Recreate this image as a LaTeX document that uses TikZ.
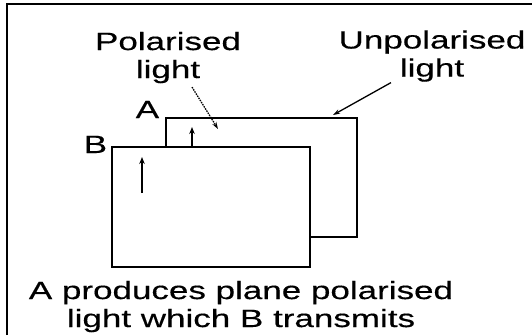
\documentclass[tikz,border=0pt]{standalone}
\usepackage{fontspec}
\newfontfamily\figfont[FakeStretch=1.4,FakeBold=0.4]{Liberation Sans}
\usetikzlibrary{arrows.meta,positioning}

\begin{document}
\begin{tikzpicture}[x=1pt, y=-1pt, line width=1.8pt,
  every node/.style={font=\figfont\fontsize{25}{28}\selectfont, inner sep=0pt},
  plate/.style={draw, fill=white, outer sep=0pt},
  axis/.style={line width=1.6pt, -{Stealth[length=7pt,width=5.5pt]}},
  pointer/.style={line width=1.3pt, -{Stealth[length=7pt,width=4.5pt]}}]
  \useasboundingbox (0,0) rectangle (532,335);
  % Frame
  \draw[line width=2.2pt] (7,335) -- (7,4) -- (532,4);
  % Plate A (behind)
  \node[plate, minimum width=191pt, minimum height=119pt] (platA) at (261.5,177.5) {};
  % Plate B (front)
  \node[plate, minimum width=198pt, minimum height=120pt] (platB) at (211,207) {};
  % Plate letters
  \node[anchor=base east] (labA) at ([xshift=-6pt]platA.north west) {A};
  \node[anchor=base east] (labB) at ([xshift=-4pt,yshift=-6pt]platB.north west) {B};
  % Transmission directions
  \draw[axis] ([xshift=80pt]platB.north west) -- ++(0,-20);
  \draw[axis] ([xshift=30pt,yshift=-46pt]platB.north west) -- ++(0,-36);
  % Captions
  \node[align=center, anchor=north] (polLbl) at (168,31) {Polarised\\light};
  \node[align=center, anchor=north] (unpLbl) at (432,29.5) {Unpolarised\\light};
  \node[align=center, anchor=north] (capLbl) at (241,280) {A produces plane polarised\\light which B transmits};
  % Pointers
  \coordinate (polTip) at (218,129);
  \coordinate (unpTip) at (333,115);
  \draw[pointer, dash pattern=on 1.5pt off 1pt] ([xshift=24pt,yshift=-3pt]polLbl.south) -- (polTip);
  \draw[pointer] ([xshift=-41pt]unpLbl.south) -- (unpTip);
\end{tikzpicture}
\end{document}
